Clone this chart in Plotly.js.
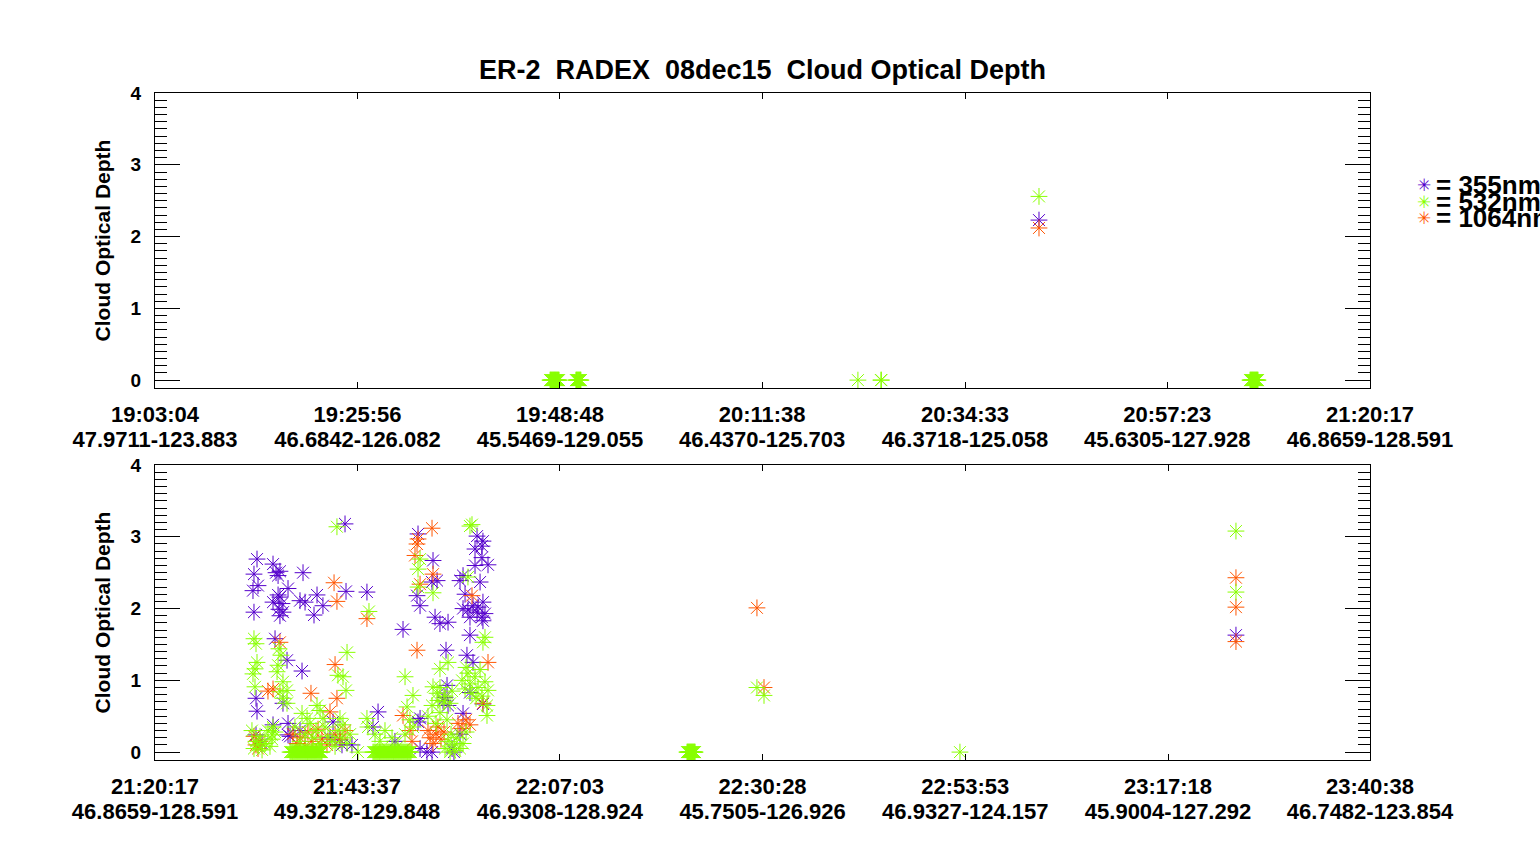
<!DOCTYPE html>
<html>
<head>
<meta charset="utf-8">
<script src="https://cdn.plot.ly/plotly-3.0.1.min.js"></script>
<style>
  body { margin: 0; background: #fff; }
  #graph { width: 1540px; height: 845px; }
</style>
</head>
<body>
<div id="graph"></div>
<script>
// tick positions and two-line labels (time / lat-lon)
const topTicks = ['19:03:04', '19:25:56', '19:48:48', '20:11:38', '20:34:33', '20:57:23', '21:20:17'];
const topTickPos = ['47.9711-123.883', '46.6842-126.082', '45.5469-129.055', '46.4370-125.703',
  '46.3718-125.058', '45.6305-127.928', '46.8659-128.591'];
const botTicks = ['21:20:17', '21:43:37', '22:07:03', '22:30:28', '22:53:53', '23:17:18', '23:40:38'];
const botTickPos = ['46.8659-128.591', '49.3278-129.848', '46.9308-128.924', '45.7505-126.926',
  '46.9327-124.157', '45.9004-127.292', '46.7482-123.854'];

const seriesNames = ['355nm', '532nm', '1064nm'];

// top panel: [time, cloud optical depth]
const top355 = [['20:42:54', 2.23]];
const top532 = [
  ['19:47:41', 0], ['19:47:44', 0], ['19:47:47', 0], ['19:47:51', 0], ['19:47:54', 0], ['19:47:58', 0],
  ['19:48:01', 0], ['19:48:04', 0], ['19:48:08', 0], ['19:48:11', 0], ['19:48:14', 0], ['19:48:18', 0],
  ['19:48:21', 0], ['19:48:24', 0], ['19:48:28', 0], ['19:48:31', 0], ['19:48:35', 0], ['19:48:38', 0],
  ['19:48:42', 0],
  ['19:50:36', 0], ['19:50:40', 0], ['19:50:43', 0], ['19:50:46', 0], ['19:50:50', 0], ['19:50:53', 0],
  ['19:50:57', 0], ['19:51:00', 0], ['19:51:04', 0], ['19:51:07', 0], ['19:51:10', 0],
  ['20:22:27', 0], ['20:25:03', 0], ['20:25:06', 0],
  ['20:42:54', 2.56],
  ['21:06:44', 0], ['21:06:47', 0], ['21:06:51', 0], ['21:06:54', 0], ['21:06:58', 0], ['21:07:01', 0],
  ['21:07:04', 0], ['21:07:08', 0], ['21:07:11', 0], ['21:07:14', 0], ['21:07:18', 0], ['21:07:21', 0],
  ['21:07:25', 0], ['21:07:28', 0], ['21:07:31', 0], ['21:07:35', 0], ['21:07:38', 0]
];
const top1064 = [['20:42:54', 2.12]];

// bottom panel
const bot355 = [
  ['21:42:14', 3.18], ['21:32:04', 2.69], ['21:33:55', 2.62], ['21:31:43', 2.48], ['21:34:16', 2.50],
  ['21:34:30', 2.46], ['21:34:43', 2.52], ['21:37:23', 2.50], ['21:32:11', 2.32], ['21:31:36', 2.25],
  ['21:35:39', 2.28], ['21:34:30', 2.19], ['21:34:43', 2.16], ['21:39:00', 2.19], ['21:42:21', 2.24],
  ['21:44:46', 2.23], ['21:37:02', 2.11], ['21:37:37', 2.09], ['21:34:57', 2.07], ['21:34:36', 1.99],
  ['21:35:04', 1.95], ['21:34:43', 1.90], ['21:39:41', 2.04], ['21:38:39', 1.91], ['21:31:43', 1.95],
  ['21:33:55', 2.09], ['21:50:40', 3.04], ['21:57:29', 3.01], ['21:58:10', 2.94], ['21:58:03', 2.87],
  ['21:57:15', 2.83], ['21:52:24', 2.67], ['21:52:52', 2.39], ['21:52:17', 2.37], ['21:50:33', 2.18],
  ['21:50:54', 2.04], ['21:58:03', 2.71], ['21:57:15', 2.60], ['21:58:45', 2.61], ['21:55:52', 2.46],
  ['21:57:50', 2.37], ['21:55:31', 2.39], ['21:56:06', 2.20], ['21:58:10', 2.09], ['21:57:01', 2.04],
  ['21:55:52', 2.00], ['21:57:29', 1.95], ['21:58:03', 1.88], ['21:56:40', 1.88], ['21:58:10', 1.83],
  ['21:56:26', 1.98], ['21:57:36', 2.02], ['21:58:24', 1.93], ['21:52:38', 1.88], ['21:54:08', 1.81],
  ['21:53:12', 1.79], ['21:48:56', 1.71], ['21:56:40', 1.63], ['21:53:54', 1.42], ['21:56:19', 1.35],
  ['21:57:01', 1.25], ['21:35:32', 1.28], ['21:37:16', 1.13], ['21:34:09', 1.58], ['21:31:57', 0.75],
  ['21:35:04', 0.68], ['21:32:04', 0.57], ['21:35:39', 0.40], ['21:35:39', 0.24], ['21:40:51', 0.42],
  ['21:54:01', 0.93], ['21:53:33', 0.72], ['21:54:08', 0.65], ['21:46:03', 0.56], ['21:55:52', 0.54],
  ['21:50:40', 0.42], ['21:58:10', 0.67], ['21:50:54', 0.47], ['21:50:54', 0.05], ['21:52:17', 0],
  ['21:51:42', 0], ['21:35:53', 0.22], ['21:41:39', 0.17], ['21:45:28', 0.35], ['21:32:39', 0.12],
  ['21:37:02', 0.30], ['21:40:30', 0.20], ['21:43:02', 0.10], ['21:48:00', 0.15], ['21:54:36', 0.05],
  ['21:55:31', 0.25], ['21:31:57', 0.24], ['21:33:55', 0.38], ['21:41:53', 0.10], ['21:54:49', 0],
  ['21:56:40', 0.83], ['21:53:47', 0.76], ['23:25:09', 1.63]
];
const bot1064 = [
  ['21:40:58', 2.36], ['21:41:18', 2.10], ['21:44:46', 1.86], ['21:34:43', 1.53], ['21:41:05', 1.22],
  ['21:33:55', 0.88], ['21:33:20', 0.85], ['21:38:18', 0.82], ['21:41:18', 0.75], ['21:40:30', 0.56],
  ['21:52:17', 3.12], ['21:50:40', 2.97], ['21:50:33', 2.90], ['21:50:19', 2.74], ['21:52:24', 2.48],
  ['21:50:54', 2.34], ['21:56:54', 2.18], ['21:50:33', 1.42], ['21:58:45', 1.25], ['21:48:56', 0.51],
  ['21:58:10', 0.68], ['21:31:43', 0.22], ['21:31:57', 0.10], ['21:32:25', 0.15], ['21:32:11', 0.05],
  ['21:36:13', 0.25], ['21:36:41', 0.12], ['21:37:02', 0.20], ['21:37:37', 0.08], ['21:37:57', 0.28],
  ['21:38:25', 0.15], ['21:39:07', 0.32], ['21:39:34', 0.18], ['21:40:09', 0.10], ['21:41:05', 0.25],
  ['21:41:39', 0.18], ['21:42:14', 0.30], ['21:49:44', 0.30], ['21:49:58', 0.15], ['21:51:49', 0.30],
  ['21:52:03', 0.20], ['21:52:24', 0.12], ['21:52:45', 0.25], ['21:52:58', 0.35], ['21:53:19', 0.18],
  ['21:53:40', 0.28], ['21:55:17', 0.40], ['21:55:45', 0.33], ['21:56:13', 0.45], ['21:56:40', 0.38],
  ['22:29:49', 2.01], ['22:30:38', 0.90], ['23:25:09', 2.43], ['23:25:09', 2.02], ['23:25:09', 1.54]
];
const bot532 = [
  ['21:41:18', 3.14], ['21:45:00', 1.96], ['21:31:43', 1.58], ['21:31:57', 1.51], ['21:34:36', 1.44],
  ['21:34:50', 1.35], ['21:42:28', 1.39], ['21:32:04', 1.25], ['21:31:50', 1.16], ['21:31:36', 1.09],
  ['21:34:30', 1.21], ['21:34:23', 1.12], ['21:41:25', 1.07], ['21:42:00', 1.05], ['21:31:50', 0.91],
  ['21:42:21', 0.86], ['21:35:04', 0.98], ['21:35:32', 0.86], ['21:34:43', 0.84], ['21:35:04', 0.75],
  ['21:35:32', 0.68], ['21:37:16', 0.54], ['21:37:51', 0.47], ['21:39:00', 0.65], ['21:39:21', 0.58],
  ['21:39:41', 0.47], ['21:41:39', 0.47], ['21:42:00', 0.38], ['21:33:55', 0.35], ['21:33:48', 0.24],
  ['21:56:40', 3.15], ['21:56:54', 3.17], ['21:50:54', 2.69], ['21:50:40', 2.55], ['21:50:40', 2.30],
  ['21:52:24', 2.22], ['21:56:26', 2.44], ['21:58:10', 1.53], ['21:58:24', 1.60], ['21:54:08', 1.25],
  ['21:53:12', 1.16], ['21:49:10', 1.05], ['21:52:24', 0.91], ['21:52:52', 0.82], ['21:50:05', 0.79],
  ['21:58:38', 0.65], ['21:49:24', 0.63], ['21:58:38', 0.51], ['21:44:46', 0.47],
  ['21:55:45', 1.00], ['21:56:06', 0.88], ['21:56:26', 1.10], ['21:56:40', 0.95], ['21:56:54', 0.82],
  ['21:57:15', 1.05], ['21:57:36', 0.90], ['21:57:50', 1.15], ['21:58:03', 0.78], ['21:58:24', 0.98],
  ['21:58:45', 0.86], ['21:56:13', 1.18], ['21:57:22', 0.75], ['21:53:12', 0.90], ['21:53:47', 0.78],
  ['21:54:22', 0.68], ['21:52:58', 0.72], ['21:54:36', 0.85],
  ['21:31:43', 0.05], ['21:31:57', 0.15], ['21:32:11', 0.10], ['21:32:25', 0.22], ['21:32:39', 0.03],
  ['21:32:59', 0.12], ['21:33:20', 0.30], ['21:33:34', 0.08], ['21:33:48', 0.18], ['21:34:09', 0.28],
  ['21:31:29', 0.30],
  ['21:36:27', 0.35], ['21:37:02', 0.15], ['21:37:37', 0.25], ['21:38:11', 0.40], ['21:38:32', 0.20],
  ['21:38:53', 0.30], ['21:39:21', 0.12], ['21:39:55', 0.35], ['21:40:16', 0.22], ['21:40:44', 0.15],
  ['21:41:05', 0.08], ['21:41:25', 0.30], ['21:41:53', 0.20], ['21:42:28', 0.12], ['21:42:49', 0.25],
  ['21:43:44', 0],
  ['21:35:53', 0], ['21:36:00', 0], ['21:36:07', 0], ['21:36:13', 0], ['21:36:20', 0], ['21:36:27', 0],
  ['21:36:34', 0], ['21:36:41', 0], ['21:36:48', 0], ['21:36:55', 0], ['21:37:02', 0], ['21:37:09', 0],
  ['21:37:16', 0], ['21:37:23', 0], ['21:37:30', 0], ['21:37:37', 0], ['21:37:44', 0], ['21:37:51', 0],
  ['21:37:57', 0], ['21:38:04', 0], ['21:38:11', 0], ['21:38:18', 0], ['21:38:25', 0], ['21:38:32', 0],
  ['21:38:39', 0], ['21:38:46', 0], ['21:38:53', 0], ['21:39:00', 0], ['21:39:07', 0], ['21:39:14', 0],
  ['21:39:21', 0], ['21:39:28', 0], ['21:39:34', 0],
  ['21:45:28', 0], ['21:45:35', 0], ['21:45:42', 0], ['21:45:49', 0], ['21:45:56', 0], ['21:46:03', 0],
  ['21:46:10', 0], ['21:46:16', 0], ['21:46:23', 0], ['21:46:30', 0], ['21:46:37', 0], ['21:46:44', 0],
  ['21:46:51', 0], ['21:46:58', 0], ['21:47:05', 0], ['21:47:12', 0], ['21:47:19', 0], ['21:47:26', 0],
  ['21:47:33', 0], ['21:47:40', 0], ['21:47:47', 0], ['21:47:53', 0], ['21:48:00', 0], ['21:48:07', 0],
  ['21:48:14', 0], ['21:48:21', 0], ['21:48:28', 0], ['21:48:35', 0], ['21:48:42', 0], ['21:48:49', 0],
  ['21:48:56', 0], ['21:49:03', 0], ['21:49:10', 0], ['21:49:17', 0], ['21:49:24', 0], ['21:49:30', 0],
  ['21:49:37', 0], ['21:49:44', 0], ['21:49:51', 0],
  ['21:44:53', 0.35], ['21:45:42', 0.25], ['21:46:16', 0.15], ['21:46:51', 0.30], ['21:47:40', 0.20],
  ['21:48:21', 0.08], ['21:49:10', 0.25], ['21:49:44', 0.45], ['21:50:05', 0.35], ['21:51:49', 0.50],
  ['21:52:17', 0.65], ['21:52:45', 0.40], ['21:53:12', 0.55], ['21:53:40', 0.70], ['21:54:01', 0.45],
  ['21:53:47', 0.05], ['21:54:08', 0.15], ['21:54:29', 0.25], ['21:54:49', 0.10], ['21:55:10', 0.20],
  ['21:55:31', 0.05], ['21:55:52', 0.12], ['21:56:13', 0.28], ['21:54:22', 0], ['21:54:56', 0.02],
  ['22:21:44', 0], ['22:21:48', 0], ['22:21:51', 0], ['22:21:55', 0], ['22:21:58', 0], ['22:22:02', 0],
  ['22:22:05', 0], ['22:22:09', 0], ['22:22:12', 0], ['22:22:16', 0], ['22:22:19', 0], ['22:22:23', 0],
  ['22:22:26', 0], ['22:22:30', 0], ['22:22:33', 0], ['22:22:37', 0], ['22:22:40', 0],
  ['22:29:49', 0.90], ['22:30:38', 0.79], ['22:53:16', 0],
  ['23:25:09', 3.08], ['23:25:09', 2.23]
];

const colors = { '355nm': '#5500cc', '532nm': '#88ff00', '1064nm': '#ff5500' };

function toSec(t) {
  const p = t.split(':').map(Number);
  return p[0] * 3600 + p[1] * 60 + p[2];
}

function starTrace(data, name, xa, ya) {
  return {
    x: data.map(d => toSec(d[0])),
    y: data.map(d => d[1]),
    xaxis: xa,
    yaxis: ya,
    type: 'scatter',
    mode: 'markers',
    name: name,
    showlegend: false,
    marker: {
      symbol: 'asterisk-open',
      size: 14,
      color: colors[name],
      line: { color: colors[name], width: 1 }
    }
  };
}

// empty trace so the overlaying lat-lon axis gets drawn
function holder(xa, ya) {
  return { x: [], y: [], xaxis: xa, yaxis: ya, type: 'scatter', mode: 'markers', showlegend: false };
}

// draw order: 355, 1064, then 532 on top
const traces = [
  starTrace(top355, '355nm', 'x', 'y'),
  starTrace(top1064, '1064nm', 'x', 'y'),
  starTrace(top532, '532nm', 'x', 'y'),
  starTrace(bot355, '355nm', 'x2', 'y2'),
  starTrace(bot1064, '1064nm', 'x2', 'y2'),
  starTrace(bot532, '532nm', 'x2', 'y2'),
  holder('x3', 'y'),
  holder('x4', 'y2')
];

const FONT = 'Liberation Sans, Arial, sans-serif';
const tickFont = { family: FONT, size: 22, weight: 'bold', color: '#000' };

// time labels on the main x axis
function xAxis(ticks, anchor) {
  return {
    anchor: anchor,
    domain: [0, 1],
    range: [toSec(ticks[0]), toSec(ticks[ticks.length - 1])],
    tickmode: 'array',
    tickvals: ticks.map(toSec),
    ticktext: ticks,
    ticks: 'inside',
    ticklen: 6,
    tickcolor: '#000',
    mirror: 'ticks',
    showline: true,
    linecolor: '#000',
    linewidth: 1,
    showgrid: false,
    zeroline: false,
    ticklabelstandoff: 7,
    tickfont: tickFont
  };
}

// lat-lon labels on an overlaying axis, one row lower
function posAxis(ticks, pos, over, anchor) {
  return {
    overlaying: over,
    anchor: anchor,
    side: 'bottom',
    range: [toSec(ticks[0]), toSec(ticks[ticks.length - 1])],
    tickmode: 'array',
    tickvals: ticks.map(toSec),
    ticktext: pos,
    ticks: '',
    showline: false,
    showgrid: false,
    zeroline: false,
    ticklabelstandoff: 36,
    tickfont: tickFont
  };
}

function yAxis(domain, anchor) {
  return {
    anchor: anchor,
    domain: domain,
    range: [-0.11, 4.001],
    tickmode: 'linear',
    tick0: 0,
    dtick: 1,
    ticks: 'inside',
    ticklen: 25,
    tickcolor: '#000',
    minor: { dtick: 0.1, ticks: 'inside', ticklen: 12, tickcolor: '#000', showgrid: false },
    mirror: 'ticks',
    showline: true,
    linecolor: '#000',
    linewidth: 1,
    showgrid: false,
    zeroline: false,
    ticklabelstandoff: 9,
    tickfont: { family: FONT, size: 19, weight: 'bold', color: '#000' },
    title: {
      text: 'Cloud Optical Depth',
      standoff: 14,
      font: { family: FONT, size: 21, weight: 'bold', color: '#000' }
    }
  };
}

// legend drawn as text to keep the tight, overlapping rows of the original
const legendRows = [0.8621, 0.8370, 0.8121];
const annotations = [];
seriesNames.forEach((n, i) => {
  annotations.push({
    xref: 'paper', yref: 'paper', x: 1.0444, y: legendRows[i],
    xanchor: 'center', yanchor: 'middle', showarrow: false,
    text: '\u2733', font: { family: 'DejaVu Sans', size: 17, color: colors[n] }
  });
  annotations.push({
    xref: 'paper', yref: 'paper', x: 1.0525, y: legendRows[i],
    xanchor: 'left', yanchor: 'middle', showarrow: false,
    text: '= ' + n, font: { family: FONT, size: 26, weight: 'bold', color: '#000' }
  });
});

const layout = {
  width: 1540,
  height: 845,
  margin: { l: 155, r: 170, t: 93, b: 85, pad: 0 },
  paper_bgcolor: '#fff',
  plot_bgcolor: '#fff',
  showlegend: false,
  title: {
    text: 'ER-2  RADEX  08dec15  Cloud Optical Depth',
    x: 0.5, xref: 'paper', xanchor: 'center',
    y: 0.918, yref: 'container', yanchor: 'middle',
    font: { family: FONT, size: 27, weight: 'bold', color: '#000' }
  },
  xaxis: xAxis(topTicks, 'y'),
  yaxis: yAxis([0.5577, 1], 'x'),
  xaxis2: xAxis(botTicks, 'y2'),
  yaxis2: yAxis([0, 0.4423], 'x2'),
  xaxis3: posAxis(topTicks, topTickPos, 'x', 'y'),
  xaxis4: posAxis(botTicks, botTickPos, 'x2', 'y2'),
  annotations: annotations
};

Plotly.newPlot('graph', traces, layout, { displayModeBar: false, staticPlot: true });
</script>
</body>
</html>
